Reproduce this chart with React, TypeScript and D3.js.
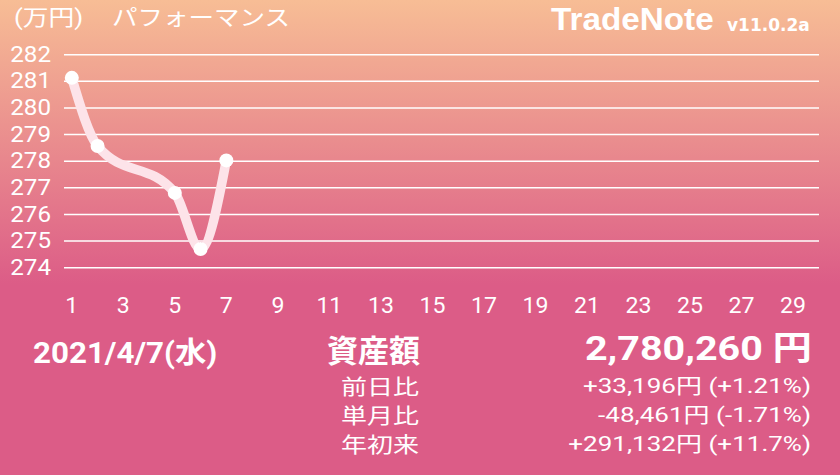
import React from "react";
import * as d3 from "d3";

// ---- data ----
const days = [1, 2, 5, 6, 7];
const assets = [281.13, 278.57, 276.81, 274.7, 278.03]; // 万円
const yTicks = [274, 275, 276, 277, 278, 279, 280, 281, 282];
const xTicks = [1, 3, 5, 7, 9, 11, 13, 15, 17, 19, 21, 23, 25, 27, 29];
const title = "パフォーマンス";
const unitLabel = "(万円)";
const appName = "TradeNote";
const appVersion = "v11.0.2a";
const dateLabel = "2021/4/7(水)";
const assetLabel = "資産額";
const assetValue = "2,780,260 円";
const statLabels = ["前日比", "単月比", "年初来"];
const statValues = ["+33,196円 (+1.21%)", "-48,461円 (-1.71%)", "+291,132円 (+11.7%)"];

const W = 840;
const H = 475;
const FONT = "Roboto, 'Noto Sans CJK JP', sans-serif";
const CJK = "'Noto Sans CJK JP', Roboto, sans-serif";

type TProps = {
  x: number;
  y: number;
  sx?: number;
  anchor?: "start" | "end" | "middle";
  size: number;
  weight?: number | string;
  family?: string;
  children: React.ReactNode;
  baseline?: string;
};

function T({ x, y, sx = 1, anchor = "start", size, weight = 400, family = FONT, children, baseline }: TProps) {
  return (
    <text
      transform={`translate(${x},${y}) scale(${sx},1)`}
      textAnchor={anchor}
      fontSize={size}
      fontWeight={weight}
      fontFamily={family}
      fill="#fff"
      dominantBaseline={baseline as any}
    >
      {children}
    </text>
  );
}

export default function App() {
  const x = d3.scaleLinear().domain([1, 29]).range([71.8, 793]);
  const y = d3.scaleLinear().domain([274, 282]).range([267.7, 54.7]);
  const pts: [number, number][] = days.map((d, i) => [x(d), y(assets[i])]);
  const line = d3.line<[number, number]>().x((p) => p[0]).y((p) => p[1]).curve(d3.curveMonotoneX);

  return (
    <svg width={W} height={H} style={{ position: "absolute", left: 0, top: 0, display: "block" }}>
      <defs>
        <linearGradient id="bg" gradientUnits="userSpaceOnUse" x1="0" y1="0" x2="0" y2="285">
          <stop offset="0" stopColor="#f7bd95" />
          <stop offset="1" stopColor="#dc5c87" />
        </linearGradient>
      </defs>
      <rect x={0} y={0} width={W} height={H} fill="url(#bg)" />

      {/* header */}
      <T x={14} y={25} size={22} sx={1.17} family={FONT}>{unitLabel}</T>
      <T x={112} y={25} size={22} sx={1.16} family={CJK}>{title}</T>
      <T x={551} y={29.5} size={32} sx={1.04} weight={700} family="'Liberation Sans', Arial, sans-serif">{appName}</T>
      <T x={727} y={30.5} size={17} weight={700} family="'DejaVu Sans', Verdana, sans-serif">{appVersion}</T>

      {/* grid */}
      {yTicks.map((t) => (
        <g key={t}>
          <line x1={64} x2={819} y1={y(t)} y2={y(t)} stroke="#fff" strokeWidth={1.5} />
          <T x={51} y={y(t)} size={22} sx={1.1} anchor="end" baseline="central">{t}</T>
        </g>
      ))}
      {xTicks.map((t) => (
        <T key={t} x={x(t)} y={306} size={22} sx={1.05} anchor="middle" baseline="central">{t}</T>
      ))}

      {/* line */}
      <path d={line(pts) || ""} fill="none" stroke="#fde3e9" strokeWidth={9.5} strokeLinecap="round" strokeLinejoin="round" />
      {pts.map((p, i) => (
        <circle key={i} cx={p[0]} cy={p[1]} r={7} fill="#fff" />
      ))}

      {/* summary */}
      <T x={33} y={363} size={29} weight={700} sx={1.08}>{dateLabel}</T>
      <T x={420} y={362} size={31} weight={700} anchor="end" family={CJK}>{assetLabel}</T>
      <T x={812} y={359.5} size={34} weight={700} sx={1.16} anchor="end">{assetValue}</T>
      {statLabels.map((l, i) => (
        <g key={l}>
          <T x={419} y={393.5 + i * 29.3} size={21} sx={1.24} anchor="end" family={CJK}>{l}</T>
          <T x={811} y={392.5 + i * 29.3} size={21} sx={1.24} anchor="end">{statValues[i]}</T>
        </g>
      ))}
    </svg>
  );
}
